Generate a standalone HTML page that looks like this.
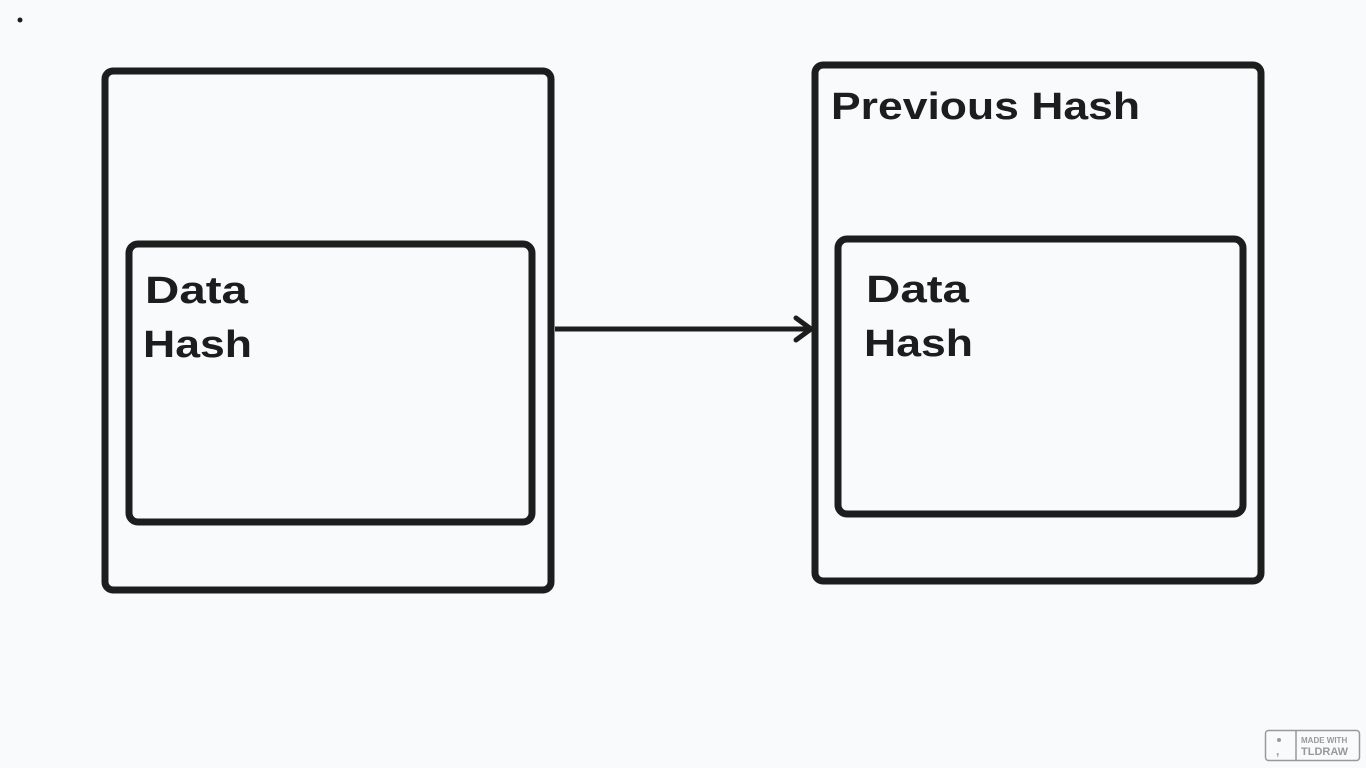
<!DOCTYPE html>
<html><head><meta charset="utf-8"><style>
html,body{margin:0;padding:0;background:#f9fafb;}
svg{display:block}
text{font-family:"Liberation Sans","DejaVu Sans",sans-serif;font-weight:bold;fill:#1d1d1d}
</style></head><body>
<svg width="1366" height="768" viewBox="0 0 1366 768">
<rect width="1366" height="768" fill="#f9fafb"/>
<circle cx="20" cy="20" r="2.5" fill="#1d1d1d"/>
<g fill="none" stroke="#1d1d1d" stroke-width="7" stroke-linejoin="round">
<rect x="105" y="71" width="446" height="519" rx="8"/>
<rect x="129" y="244" width="403" height="278" rx="9"/>
<rect x="815" y="65" width="446" height="516" rx="8"/>
<rect x="838" y="239" width="405" height="275" rx="9"/>
</g>
<line x1="555" y1="329" x2="810" y2="329" stroke="#1d1d1d" stroke-width="5"/>
<polyline points="796,318 811,329 796,340" fill="none" stroke="#1d1d1d" stroke-width="5" stroke-linecap="round" stroke-linejoin="round"/>
<text x="145" y="303" font-size="38" textLength="103" lengthAdjust="spacingAndGlyphs">Data</text>
<text x="143" y="357" font-size="38" textLength="109" lengthAdjust="spacingAndGlyphs">Hash</text>
<text x="866" y="302" font-size="38" textLength="103" lengthAdjust="spacingAndGlyphs">Data</text>
<text x="864" y="356" font-size="38" textLength="109" lengthAdjust="spacingAndGlyphs">Hash</text>
<text x="831" y="119" font-size="38" textLength="309" lengthAdjust="spacingAndGlyphs">Previous Hash</text>
<g>
<rect x="1265.5" y="730.5" width="94" height="30" rx="3" fill="#f9fafb" stroke="#999" stroke-width="1.5"/>
<line x1="1296" y1="731" x2="1296" y2="760" stroke="#999" stroke-width="1.5"/>
<circle cx="1279" cy="740" r="2" fill="#999"/>
<text x="1276" y="755" font-size="12" style="fill:#999">,</text>
<text x="1301" y="743" font-size="8" style="fill:#999">MADE WITH</text>
<text x="1301" y="755" font-size="11" style="fill:#999">TLDRAW</text>
</g>
</svg>
</body></html>
